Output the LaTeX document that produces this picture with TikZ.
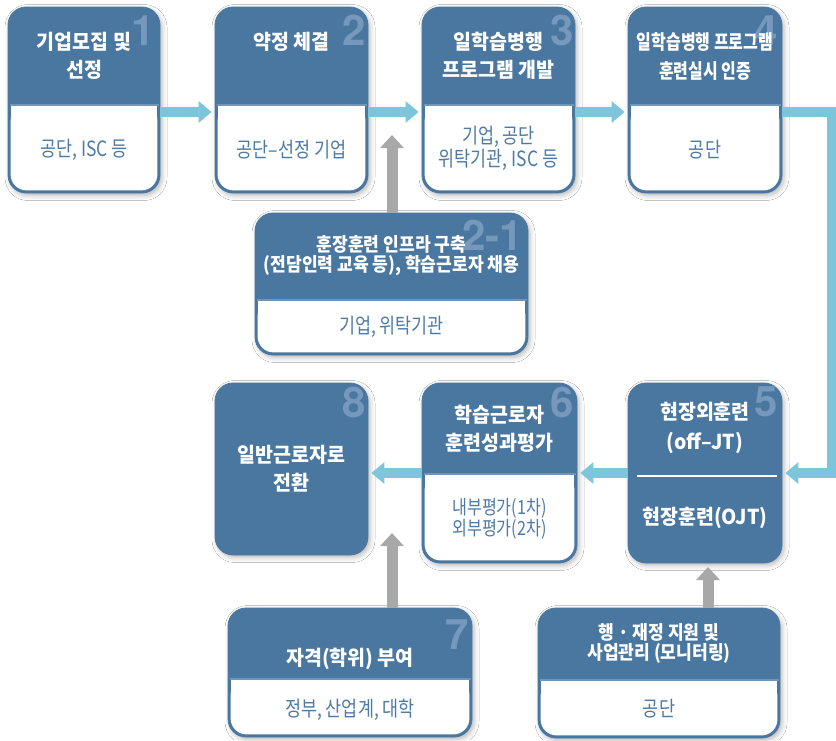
\documentclass[tikz,border=0pt]{standalone}
\usepackage{fontspec}
\setmainfont{Noto Sans CJK KR}
\newfontfamily\hdfont{Noto Sans CJK KR}[FakeStretch=0.95]
\newfontfamily\hdmidfont{Noto Sans CJK KR}[FakeStretch=0.9]
\newfontfamily\hdcondfont{Noto Sans CJK KR}[FakeStretch=0.8]
\newfontfamily\bdfont{Noto Sans CJK KR}[FakeStretch=0.83]
\newfontfamily\numfont{TeX Gyre Heros}
\usetikzlibrary{arrows.meta,fit,shadows.blur,calc}
\definecolor{hdr}{HTML}{4A77A0}
\definecolor{bodytxt}{HTML}{4E7AA6}
\definecolor{divc}{HTML}{6E95BB}
\definecolor{numc}{HTML}{7698BD}
\definecolor{flowc}{HTML}{7DC5DA}
\definecolor{feedc}{HTML}{A8A8A8}
\tikzset{
  stagebox/.style={rectangle, rounded corners=18pt, fill=hdr, draw=hdr, line width=0.8pt, inner sep=0pt,
    blur shadow={shadow xshift=2pt, shadow yshift=-2.5pt, shadow blur radius=5pt, shadow opacity=28}},
  hd/.style={text=white, font=\hdfont\bfseries\fontsize{20.5}{28}\selectfont, align=center, inner sep=0pt},
  hdmid/.style={hd, font=\hdmidfont\bfseries\fontsize{19}{20}\selectfont},
  bd/.style={text=bodytxt, font=\bdfont\fontsize{21}{23}\selectfont, align=center, inner sep=0pt},
  num/.style={text=numc, font=\numfont\bfseries\fontsize{42}{42}\selectfont, inner sep=0pt, anchor=base east},
  flow/.style={draw=flowc, line width=9.5pt, -{Triangle[width=21pt,length=13pt]}, shorten >=3pt},
  feed/.style={draw=feedc, line width=11pt, -{Triangle[width=23pt,length=13pt]}},
}
\newcommand\stagebody[4]{%
  \fill[white, rounded corners=16pt] ({#1+2.6},{#2}) rectangle ({#3-2.6},{#4-2.6});
  \fill[white] ({#1+2.6},{#2}) rectangle ({#3-2.6},{#2+20});
  \draw[divc, line width=1.2pt] ({#1+1.5},{#2}) -- ({#3-1.5},{#2});
}
\begin{document}
\begin{tikzpicture}[x=1pt,y=-1pt]
\useasboundingbox[fill=white] (0,0) rectangle (836,740);

% ---- boxes ----
\node[stagebox, fit={(8,7) (160,193)}] (b1) {};
\stagebody{8}{105}{160}{193}
\node[num] (n1) at (155,45) {1};
\node[hd] (t1h) at (84,56) {기업모집 및\\선정};
\node[bd] (t1b) at (84,150) {공단, ISC 등};

\node[stagebox, fit={(215,7) (368,193)}] (b2) {};
\stagebody{215}{105}{368}{193}
\node[num] (n2) at (366,45) {2};
\node[hd] (t2h) at (291.5,42) {약정 체결};
\node[bd] (t2b) at (291.5,150) {공단–선정 기업};

\node[stagebox, fit={(422,7) (575,193)}] (b3) {};
\stagebody{422}{105}{575}{193}
\node[num] (n3) at (574,45) {3};
\node[hd] (t3h) at (498.5,56) {일학습병행\\프로그램 개발};
\node[bd] (t3b) at (498.5,148.5) {기업, 공단\\위탁기관, ISC 등};

\node[stagebox, fit={(628,7) (782,193)}] (b4) {};
\stagebody{628}{105}{782}{193}
\node[num] (n4) at (778,45) {4};
\node[hd, font=\hdcondfont\bfseries\fontsize{20}{29}\selectfont] (t4h) at (705,56.5) {일학습병행 프로그램\\훈련실시 인증};
\node[bd] (t4b) at (705,150) {공단};

\node[stagebox, fit={(255,213) (528,355)}] (b21) {};
\stagebody{255}{300}{528}{355}
\node[num] (n21) at (523,250) {2-1};
\node[hdmid] (t21h) at (391.5,255.5) {훈장훈련 인프라 구축\\(전담인력 교육 등), 학습근로자 채용};
\node[bd] (t21b) at (391.5,327) {기업, 위탁기관};

\node[stagebox, fit={(215,383) (368,555)}] (b8) {};
\node[num] (n8) at (366,417) {8};
\node[hd] (t8h) at (291.5,469) {일반근로자로\\전환};

\node[stagebox, fit={(422,383) (577,563)}] (b6) {};
\stagebody{422}{474}{577}{563}
\node[num] (n6) at (574,417) {6};
\node[hd] (t6h) at (499.5,429) {학습근로자\\훈련성과평가};
\node[bd, font=\bdfont\fontsize{19.5}{21}\selectfont] (t6b) at (499.5,518.5) {내부평가(1차)\\외부평가(2차)};

\node[stagebox, fit={(628,383) (782,563)}] (b5) {};
\node[num] (n5) at (778,416) {5};
\draw[white, line width=1.5pt] (637,476) -- (777,476);
\node[hd, font=\hdfont\bfseries\fontsize{20.5}{30}\selectfont] (t5h) at (705,428) {현장외훈련\\(off–JT)};
\node[hd] (t5b) at (705,518) {현장훈련(OJT)};

\node[stagebox, fit={(228,608) (472,737)}] (b7) {};
\stagebody{228}{679}{472}{737}
\node[num] (n7) at (469,649) {7};
\node[hd] (t7h) at (350,659) {자격(학위) 부여};
\node[bd] (t7b) at (350,710) {정부, 산업계, 대학};

\node[stagebox, fit={(538,608) (780,738)}] (b9) {};
\stagebody{538}{680}{780}{738}
\node[hdmid] (t9h) at (659,643) {행 · 재정 지원 및\\사업관리 (모니터링)};
\node[bd] (t9b) at (659,709) {공단};

% ---- flow arrows ----
\draw[flow] ([yshift=-12pt]b1.east) -- ([yshift=-12pt]b2.west);
\draw[flow] ([yshift=-12pt]b2.east) -- ([yshift=-12pt]b3.west);
\draw[flow] ([yshift=-12pt]b3.east) -- ([yshift=-12pt]b4.west);
\draw[flow] ([yshift=-12pt]b4.east) -- ++(49,0) |- (b5.east);
\draw[flow] (b5.west) -- (b6.east);
\draw[flow] (b6.west) -- (b6.west -| b8.east);

% ---- feed arrows ----
\coordinate (g1) at (392,135);
\coordinate (g2) at (392,533);
\coordinate (g3) at (708,567);
\draw[feed] (g1 |- b21.north) -- (g1);
\draw[feed] (g2 |- b7.north) -- (g2);
\draw[feed] (g3 |- b9.north) -- (g3);
\end{tikzpicture}
\end{document}
